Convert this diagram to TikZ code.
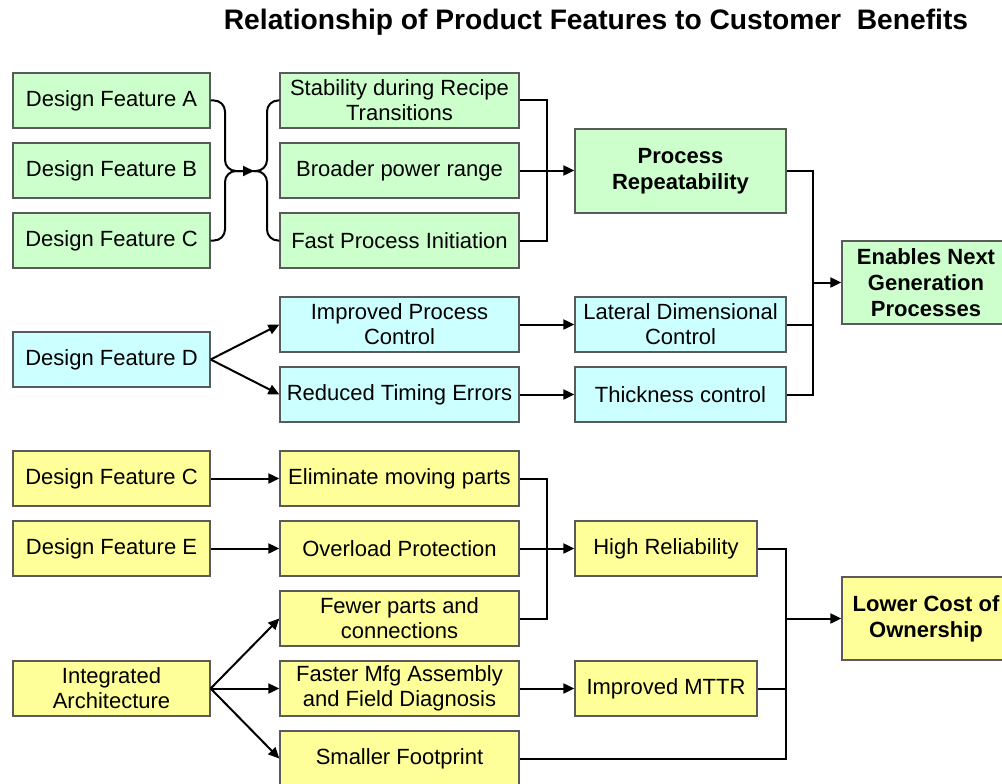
\documentclass[tikz,border=0pt]{standalone}
\usepackage{fontspec}
\setmainfont{Liberation Sans}
\usetikzlibrary{arrows.meta}
\definecolor{bgreen}{RGB}{204,255,204}
\definecolor{bcyan}{RGB}{204,255,255}
\definecolor{byellow}{RGB}{255,255,153}
\definecolor{bline}{RGB}{90,90,90}
\tikzset{
  box/.style={draw=bline, line width=1.3pt, inner sep=0pt, align=center,
    font=\fontsize{22}{25}\selectfont, text=black},
  c1/.style={box, minimum width=197pt, minimum height=55pt},
  c2/.style={box, minimum width=239pt, minimum height=55pt},
  c3/.style={box, minimum width=211pt, minimum height=55pt},
  c3s/.style={box, minimum width=182pt, minimum height=55pt},
  big/.style={box, font=\bfseries\fontsize{22}{26}\selectfont},
  gbox/.style={fill=bgreen},
  cbox/.style={fill=bcyan},
  ybox/.style={fill=byellow},
  conn/.style={line width=2pt, black},
  arr/.style={conn, -{Triangle[length=11pt,width=10pt]}},
}
\begin{document}
\begin{tikzpicture}[x=1pt,y=-1pt]
\useasboundingbox (0,0) rectangle (1002,784);
\node[font=\bfseries\fontsize{28.2}{32}\selectfont] (title) at (596,22) {Relationship of Product Features to Customer\ \ Benefits};

% column 1
\node[c1,gbox] (dfa) at (111.5,100.5) {Design Feature A};
\node[c1,gbox] (dfb) at (111.5,170.5) {Design Feature B};
\node[c1,gbox] (dfc) at (111.5,240.5) {Design Feature C};
\node[c1,cbox] (dfd) at (111.5,359.5) {Design Feature D};
\node[c1,ybox] (dfc2) at (111.5,478.5) {Design Feature C};
\node[c1,ybox] (dfe) at (111.5,548.5) {Design Feature E};
\node[c1,ybox] (ia) at (111.5,688.5) {Integrated\\Architecture};

% column 2
\node[c2,gbox] (stab) at (399.5,100.5) {Stability during Recipe\\Transitions};
\node[c2,gbox] (broad) at (399.5,170.5) {Broader power range};
\node[c2,gbox] (fast) at (399.5,240.5) {Fast Process Initiation};
\node[c2,cbox] (ipc) at (399.5,324.5) {Improved Process\\Control};
\node[c2,cbox] (rte) at (399.5,394.5) {Reduced Timing Errors};
\node[c2,ybox] (elim) at (399.5,478.5) {Eliminate moving parts};
\node[c2,ybox] (over) at (399.5,548.5) {Overload Protection};
\node[c2,ybox] (fewer) at (399.5,618.5) {Fewer parts and\\connections};
\node[c2,ybox] (faster) at (399.5,688.5) {Faster Mfg Assembly\\and Field Diagnosis};
\node[c2,ybox] (small) at (399.5,758.5) {Smaller Footprint};

% column 3
\node[big,gbox, minimum width=211pt, minimum height=84pt] (proc) at (680.5,171) {Process\\Repeatability};
\node[c3,cbox] (lat) at (680.5,324.5) {Lateral Dimensional\\Control};
\node[c3,cbox] (thick) at (680.5,394.5) {Thickness control};
\node[c3s,ybox] (hrel) at (666,548.5) {High Reliability};
\node[c3s,ybox] (mttr) at (666,688.5) {Improved MTTR};

% column 4
\node[big,gbox, minimum width=168pt, minimum height=83pt] (enab) at (926,282.5) {Enables Next\\Generation\\Processes};
\node[big,ybox, minimum width=168pt, minimum height=83pt] (lco) at (926,618.5) {Lower Cost of\\Ownership};

% junctions
\coordinate (jn) at (254,171);
\coordinate (jA) at (547,171);
\coordinate (jB) at (813,282.5);
\coordinate (jC) at (547,548.5);
\coordinate (jD) at (786,618.5);

% brace-like connectors
\draw[arr, rounded corners=11pt] (dfa.east) -- (225,100.5) -- (225,171) -- (jn);
\draw[conn, rounded corners=11pt] (dfc.east) -- (225,240.5) -- (225,171) -- (jn);
\draw[conn, rounded corners=11pt] (jn) -- (267,171) -- (267,100.5) -- (stab.west);
\draw[conn, rounded corners=11pt] (jn) -- (267,171) -- (267,240.5) -- (fast.west);

% top group
\draw[conn] (stab.east) -| (jA) |- (fast.east);
\draw[arr] (broad.east) -- (broad.east -| proc.west);

% enables group
\draw[conn] (proc.east) -| (jB) |- (thick.east);
\draw[conn] (lat.east) -- (lat.east -| jB);
\draw[arr] (jB) -- (enab.west);

% design feature D
\draw[arr] (dfd.east) -- (ipc.west);
\draw[arr] (dfd.east) -- (rte.west);
\draw[arr] (ipc.east) -- (lat.west);
\draw[arr] (rte.east) -- (thick.west);

% bottom group
\draw[arr] (dfc2.east) -- (elim.west);
\draw[arr] (dfe.east) -- (over.west);
\draw[conn] (elim.east) -| (jC) |- (fewer.east);
\draw[arr] (over.east) -- (hrel.west);
\draw[arr] (ia.east) -- (fewer.west);
\draw[arr] (ia.east) -- (faster.west);
\draw[arr] (ia.east) -- (small.west);
\draw[arr] (faster.east) -- (mttr.west);
\draw[conn] (hrel.east) -| (jD) |- (small.east);
\draw[conn] (mttr.east) -- (mttr.east -| jD);
\draw[arr] (jD) -- (lco.west);
\end{tikzpicture}
\end{document}
